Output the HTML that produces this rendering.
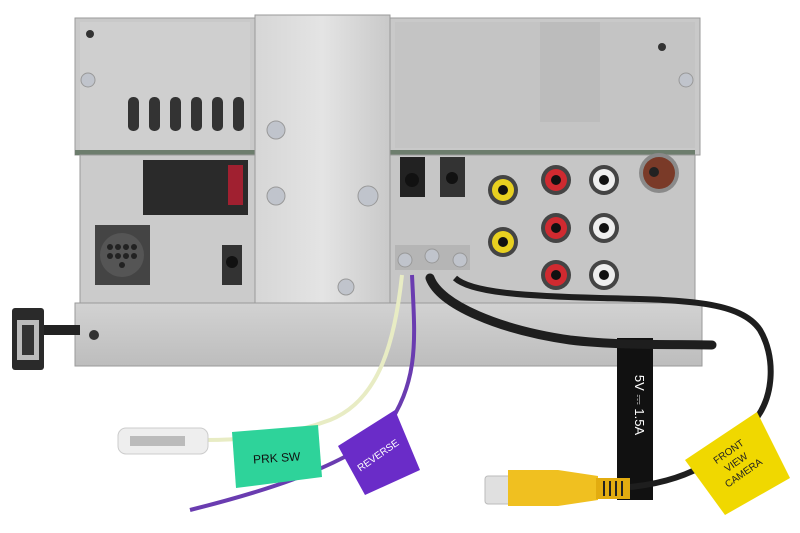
<!DOCTYPE html>
<html><head><meta charset="utf-8"><style>
html,body{margin:0;padding:0;background:#fff;width:800px;height:533px;overflow:hidden}
svg{display:block}
text{font-family:"Liberation Sans",sans-serif}
</style></head><body>
<svg width="800" height="533" viewBox="0 0 800 533" xmlns="http://www.w3.org/2000/svg">
<defs>
<linearGradient id="brk" x1="0" x2="1"><stop offset="0" stop-color="#d6d6d6"/><stop offset="0.5" stop-color="#e4e4e4"/><stop offset="1" stop-color="#c9c9c9"/></linearGradient>
<linearGradient id="plate" x1="0" y1="0" x2="0" y2="1"><stop offset="0" stop-color="#d2d2d2"/><stop offset="1" stop-color="#bdbdbd"/></linearGradient>
</defs>
<!-- top housing -->
<rect x="75" y="18" width="625" height="137" fill="#c9c9c9" stroke="#9a9a9a"/>
<rect x="80" y="22" width="170" height="128" fill="#cfcfcf"/>
<rect x="395" y="22" width="300" height="126" fill="#c4c4c4"/>
<rect x="540" y="22" width="60" height="100" fill="#bcbcbc"/>
<g fill="#333"><rect x="128" y="97" width="11" height="34" rx="5"/><rect x="149" y="97" width="11" height="34" rx="5"/><rect x="170" y="97" width="11" height="34" rx="5"/><rect x="191" y="97" width="11" height="34" rx="5"/><rect x="212" y="97" width="11" height="34" rx="5"/><rect x="233" y="97" width="11" height="34" rx="5"/></g>
<circle cx="90" cy="34" r="4" fill="#333"/><circle cx="662" cy="47" r="4" fill="#333"/>
<circle cx="88" cy="80" r="7" fill="#c0c4cc" stroke="#999"/><circle cx="686" cy="80" r="7" fill="#c0c4cc" stroke="#999"/>
<rect x="75" y="150" width="620" height="5" fill="#6d7d6d"/>
<!-- lower left body -->
<rect x="80" y="155" width="180" height="148" fill="#cbcbcb" stroke="#999"/>
<rect x="143" y="160" width="105" height="55" fill="#2a2a2a"/>
<rect x="228" y="165" width="15" height="40" fill="#a02030"/>
<path d="M95 225h55v60h-55z" fill="#444"/>
<circle cx="122" cy="255" r="22" fill="#555"/>
<g fill="#222"><circle cx="110" cy="247" r="3"/><circle cx="118" cy="247" r="3"/><circle cx="126" cy="247" r="3"/><circle cx="134" cy="247" r="3"/><circle cx="110" cy="256" r="3"/><circle cx="118" cy="256" r="3"/><circle cx="126" cy="256" r="3"/><circle cx="134" cy="256" r="3"/><circle cx="122" cy="265" r="3"/></g>
<rect x="222" y="245" width="20" height="40" fill="#333"/>
<circle cx="232" cy="262" r="6" fill="#111"/>
<!-- right body -->
<rect x="390" y="155" width="305" height="148" fill="#c6c6c6" stroke="#999"/>
<rect x="400" y="157" width="25" height="40" fill="#222"/><rect x="440" y="157" width="25" height="40" fill="#333"/>
<circle cx="412" cy="180" r="7" fill="#111"/><circle cx="452" cy="178" r="6" fill="#111"/>
<g>
<circle cx="503" cy="190" r="15" fill="#444"/><circle cx="503" cy="190" r="11" fill="#e8d020"/><circle cx="503" cy="190" r="5" fill="#111"/>
<circle cx="503" cy="242" r="15" fill="#444"/><circle cx="503" cy="242" r="11" fill="#e8d020"/><circle cx="503" cy="242" r="5" fill="#111"/>
<circle cx="556" cy="180" r="15" fill="#444"/><circle cx="556" cy="180" r="11" fill="#d02a30"/><circle cx="556" cy="180" r="5" fill="#111"/>
<circle cx="556" cy="228" r="15" fill="#444"/><circle cx="556" cy="228" r="11" fill="#d02a30"/><circle cx="556" cy="228" r="5" fill="#111"/>
<circle cx="556" cy="275" r="15" fill="#444"/><circle cx="556" cy="275" r="11" fill="#d02a30"/><circle cx="556" cy="275" r="5" fill="#111"/>
<circle cx="604" cy="180" r="15" fill="#444"/><circle cx="604" cy="180" r="11" fill="#eee"/><circle cx="604" cy="180" r="5" fill="#111"/>
<circle cx="604" cy="228" r="15" fill="#444"/><circle cx="604" cy="228" r="11" fill="#eee"/><circle cx="604" cy="228" r="5" fill="#111"/>
<circle cx="604" cy="275" r="15" fill="#444"/><circle cx="604" cy="275" r="11" fill="#eee"/><circle cx="604" cy="275" r="5" fill="#111"/>
<circle cx="659" cy="173" r="20" fill="#8a8a8a"/><circle cx="659" cy="173" r="16" fill="#7a3a28"/><circle cx="654" cy="172" r="5" fill="#222"/>
</g>
<rect x="395" y="245" width="75" height="25" fill="#b5b5b5"/>
<circle cx="405" cy="260" r="7" fill="#c0c4cc" stroke="#999"/><circle cx="432" cy="256" r="7" fill="#c0c4cc" stroke="#999"/><circle cx="460" cy="260" r="7" fill="#c0c4cc" stroke="#999"/>
<!-- bracket -->
<rect x="255" y="15" width="135" height="288" fill="url(#brk)" stroke="#999"/>
<circle cx="276" cy="130" r="9" fill="#c0c4cc" stroke="#999"/><circle cx="368" cy="196" r="10" fill="#c0c4cc" stroke="#999"/><circle cx="276" cy="196" r="9" fill="#c0c4cc" stroke="#999"/><circle cx="346" cy="287" r="8" fill="#c0c4cc" stroke="#999"/>
<!-- bottom plate -->
<rect x="75" y="303" width="627" height="63" fill="url(#plate)" stroke="#9a9a9a"/>
<circle cx="94" cy="335" r="5" fill="#333"/>
<!-- USB -->
<rect x="40" y="325" width="40" height="10" fill="#222"/>
<rect x="12" y="308" width="32" height="62" rx="3" fill="#2a2a2a"/>
<rect x="17" y="320" width="22" height="40" fill="#bbb"/><rect x="22" y="325" width="12" height="30" fill="#333"/>
<!-- wires -->
<path d="M402 275 C395 340 380 400 330 420 C290 435 250 440 205 440" fill="none" stroke="#e8ecc4" stroke-width="4"/>
<path d="M412 275 C415 340 420 380 385 430 C340 470 250 495 190 510" fill="none" stroke="#6a3cb0" stroke-width="4"/>
<!-- black tag -->
<rect x="617" y="338" width="36" height="162" fill="#111"/>
<text x="635" y="405" font-size="13" fill="#fff" text-anchor="middle" transform="rotate(90 635 405)">5V ⎓ 1.5A</text>
<!-- cable A (loop) -->
<path d="M430 278 C440 305 500 330 570 340 C620 346 680 344 712 345" fill="none" stroke="#1e1e1e" stroke-width="9" stroke-linecap="round"/>
<!-- cable B -->
<path d="M455 278 C470 292 520 296 600 298 C680 300 740 300 760 330 C775 355 775 395 755 420 C730 450 700 480 630 487" fill="none" stroke="#1e1e1e" stroke-width="6"/>
<!-- spade terminal -->
<rect x="118" y="428" width="90" height="26" rx="8" fill="#eee" stroke="#ccc"/>
<rect x="130" y="436" width="55" height="10" fill="#bbb"/>
<!-- green label -->
<polygon points="232,432 318,425 322,477 236,488" fill="#2ed39a"/>
<text x="277" y="462" font-size="12" text-anchor="middle" transform="rotate(-4 277 462)" fill="#111">PRK SW</text>
<!-- purple label -->
<polygon points="338,446 395,410 420,470 365,495" fill="#6a2cc8"/>
<text x="380" y="458" font-size="10" fill="#fff" text-anchor="middle" transform="rotate(-35 380 458)">REVERSE</text>
<!-- yellow RCA -->
<rect x="485" y="476" width="26" height="28" rx="3" fill="#e0e0e0" stroke="#bbb"/>
<path d="M508 470 h50 l40 6 v24 l-40 6 h-50z" fill="#f0c020"/>
<rect x="596" y="478" width="34" height="21" fill="#e2ac10"/>
<g fill="#222"><rect x="603" y="481" width="2" height="15"/><rect x="609" y="481" width="2" height="15"/><rect x="615" y="481" width="2" height="15"/><rect x="621" y="481" width="2" height="15"/></g>
<!-- yellow label -->
<polygon points="685,460 757,412 790,478 725,515" fill="#f0d800"/>
<text font-size="10" fill="#222" text-anchor="middle" transform="rotate(-35 738 465)"><tspan x="738" y="452">FRONT</tspan><tspan x="738" y="465">VIEW</tspan><tspan x="738" y="478">CAMERA</tspan></text>
</svg>
</body></html>
